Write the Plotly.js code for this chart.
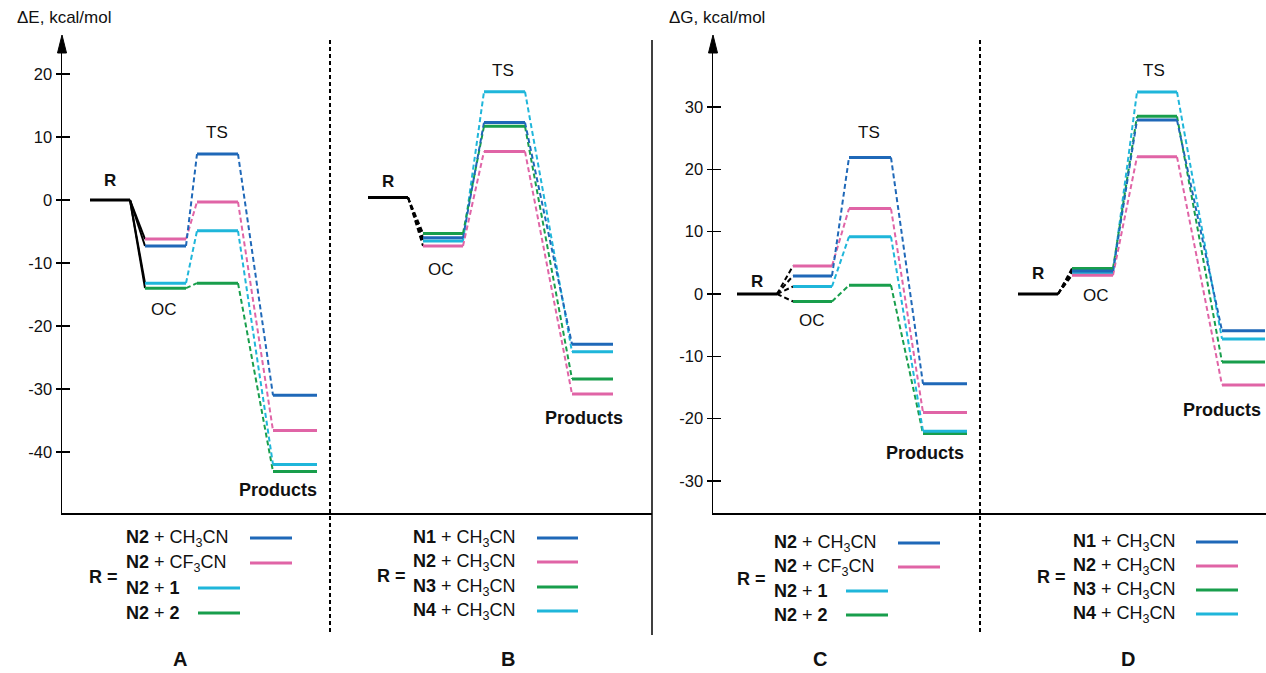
<!DOCTYPE html>
<html><head><meta charset="utf-8">
<script src="https://cdn.plot.ly/plotly-3.0.1.min.js"></script>
<style>html,body{margin:0;padding:0;background:#fff}#chart{width:1266px;height:673px}</style>
</head><body><div id="chart"></div>
<script>
// ---------------- DATA ----------------
const stages = ['R', 'OC', 'TS', 'Products'];
const legendA = ['<b>N2</b> + CH<sub>3</sub>CN', '<b>N2</b> + CF<sub>3</sub>CN', '<b>N2</b> + <b>1</b>', '<b>N2</b> + <b>2</b>'];
const legendB = ['<b>N1</b> + CH<sub>3</sub>CN', '<b>N2</b> + CH<sub>3</sub>CN', '<b>N3</b> + CH<sub>3</sub>CN', '<b>N4</b> + CH<sub>3</sub>CN'];
const panelLabels = ['A', 'B', 'C', 'D'];

// Panel A (ΔE)
const A_R = 0;
const A_OC = [-7.3, -6.2, -13.2, -14.0];
const A_TS = [7.3, -0.3, -4.9, -13.2];
const A_P = [-31.0, -36.6, -42.0, -43.1];
// Panel B (ΔE)
const B_R = 0.4;
const B_OC = [-6.0, -7.3, -5.3, -6.5];
const B_TS = [12.3, 7.7, 11.7, 17.2];
const B_P = [-22.9, -30.8, -28.4, -24.1];
// Panel C (ΔG)
const C_R = 0;
const C_OC = [2.9, 4.5, 1.2, -1.2];
const C_TS = [21.9, 13.7, 9.2, 1.4];
const C_P = [-14.4, -19.0, -22.0, -22.4];
// Panel D (ΔG)
const D_R = 0;
const D_OC = [3.7, 3.0, 4.1, 3.4];
const D_TS = [27.9, 22.0, 28.5, 32.4];
const D_P = [-5.9, -14.6, -10.9, -7.2];

const leftTickVals = [20, 10, 0, -10, -20, -30, -40];
const leftTickText = ['20', '10', '0', '-10', '-20', '-30', '-40'];
const rightTickVals = [30, 20, 10, 0, -10, -20, -30];
const rightTickText = ['30', '20', '10', '0', '-10', '-20', '-30'];

// ---------------- STYLE / LAYOUT ----------------
const BLUE = '#1f68b8', PINK = '#e064a6', CYAN = '#1fb6da', GREEN = '#189e4c';
const colorsAC = [BLUE, PINK, CYAN, GREEN];
const colorsBD = [BLUE, PINK, GREEN, CYAN];
const W = 1266, H = 673;
const fx = p => p / W, fy = p => 1 - p / H;
const FONT = 'Liberation Sans, Arial, Helvetica, sans-serif';

// stage x-extents in axis units (axis units = pixel columns)
const geomA = {R: [90, 130], OC: [145, 186], TS: [197, 238], P: [273, 317]};
const geomB = {R: [368, 408], OC: [423, 463], TS: [484, 525], P: [572, 613]};
const geomC = {R: [737, 777], OC: [793, 832], TS: [849, 891], P: [923, 967]};
const geomD = {R: [1018, 1058], OC: [1072, 1113], TS: [1137, 1177], P: [1222, 1265]};

const traces = [];
function panel(xa, ya, g, R, OC, TS, P, colors, solidROC) {
  const n = OC.length;
  const dash = '5px,3px';
  for (let i = 0; i < n; i++) {
    traces.push({x: [g.R[1], g.OC[0]], y: [R, OC[i]], xaxis: xa, yaxis: ya, mode: 'lines',
      line: {color: '#000', width: 2, dash: solidROC ? 'solid' : dash}, hoverinfo: 'skip', showlegend: false});
  }
  for (let i = n - 1; i >= 0; i--) {
    traces.push({x: [g.OC[1], g.TS[0]], y: [OC[i], TS[i]], xaxis: xa, yaxis: ya, mode: 'lines',
      line: {color: colors[i], width: 2, dash: dash}, hoverinfo: 'skip', showlegend: false});
    traces.push({x: [g.TS[1], g.P[0]], y: [TS[i], P[i]], xaxis: xa, yaxis: ya, mode: 'lines',
      line: {color: colors[i], width: 2, dash: dash}, hoverinfo: 'skip', showlegend: false});
  }
  traces.push({x: g.R, y: [R, R], xaxis: xa, yaxis: ya, mode: 'lines',
    line: {color: '#000', width: 3}, hoverinfo: 'skip', showlegend: false});
  for (let i = n - 1; i >= 0; i--) {
    [[g.OC, OC[i]], [g.TS, TS[i]], [g.P, P[i]]].forEach(([xx, v]) => {
      traces.push({x: xx, y: [v, v], xaxis: xa, yaxis: ya, mode: 'lines',
        line: {color: colors[i], width: 3}, hoverinfo: 'skip', showlegend: false});
    });
  }
}
panel('x', 'y', geomA, A_R, A_OC, A_TS, A_P, colorsAC, true);
panel('x', 'y', geomB, B_R, B_OC, B_TS, B_P, colorsBD, false);
panel('x2', 'y2', geomC, C_R, C_OC, C_TS, C_P, colorsAC, false);
panel('x2', 'y2', geomD, D_R, D_OC, D_TS, D_P, colorsBD, false);
traces.push({x: [], y: [], xaxis: 'x', yaxis: 'y3', showlegend: false});
traces.push({x: [], y: [], xaxis: 'x2', yaxis: 'y4', showlegend: false});

const leftRange = [(200 - 513) / 6.3, (200 - 40) / 6.3];
const rightRange = [(294 - 513) / 6.233, (294 - 40) / 6.233];
const yDom = [fy(513), fy(40)];

function yAxis(anchor, range, vals, text) {
  return {anchor: anchor, domain: yDom, range: range, showline: true, linecolor: '#000', linewidth: 1.5,
    ticks: 'outside', ticklen: 5, tickwidth: 1.5, tickcolor: '#000', tickvals: vals, ticktext: text,
    tickfont: {family: FONT, size: 16.5, color: '#111'}, showgrid: false, zeroline: false, fixedrange: true};
}
function tickAxis(anchor, over, range, vals) {
  return {anchor: anchor, overlaying: over, side: 'left', domain: yDom, range: range, showline: false,
    ticks: 'inside', ticklen: 8, tickwidth: 1.5, tickcolor: '#000', tickvals: vals, showticklabels: false,
    showgrid: false, zeroline: false, fixedrange: true};
}
function xAxis(anchor, dom, range) {
  return {anchor: anchor, domain: dom, range: range, showline: true, linecolor: '#000', linewidth: 2,
    ticks: '', showticklabels: false, showgrid: false, zeroline: false, fixedrange: true};
}

const shapes = [];
const annotations = [];
function ann(text, x, y, size, opts) {
  annotations.push(Object.assign({text: text, x: fx(x), y: fy(y), xref: 'paper', yref: 'paper',
    showarrow: false, xanchor: 'center', yanchor: 'middle', font: {family: FONT, size: size, color: '#111'}}, opts || {}));
}
function vline(x, y0, y1, width, dash) {
  shapes.push({type: 'line', xref: 'paper', yref: 'paper', x0: fx(x), x1: fx(x), y0: fy(y0), y1: fy(y1),
    line: {color: '#000', width: width, dash: dash || 'solid'}});
}
function arrow(x) {
  shapes.push({type: 'path', xref: 'paper', yref: 'paper',
    path: `M ${fx(x)},${fy(35)} L ${fx(x - 4.5)},${fy(53)} L ${fx(x + 4.5)},${fy(53)} Z`,
    fillcolor: '#000', line: {color: '#000', width: 1}});
}
arrow(62); arrow(713);
vline(652, 40, 635, 1.5);
vline(330, 40, 633, 2, '4px,3px');
vline(980, 40, 633, 2, '4px,3px');

ann('ΔE, kcal/mol', 64, 17, 17);
ann('ΔG, kcal/mol', 717, 17, 17);

function stageLabels(pos) {
  ann('<b>R</b>', pos.R[0], pos.R[1], 17);
  ann('OC', pos.OC[0], pos.OC[1], 17);
  ann('TS', pos.TS[0], pos.TS[1], 17);
  ann('<b>Products</b>', pos.P[0], pos.P[1], 18);
}
stageLabels({R: [110, 181], OC: [164, 310], TS: [217, 133], P: [278, 490]});
stageLabels({R: [388, 182], OC: [441, 269], TS: [503, 71], P: [584, 418]});
stageLabels({R: [757, 281], OC: [812, 320], TS: [869, 133], P: [925, 453]});
stageLabels({R: [1038, 273], OC: [1096, 295], TS: [1154, 71], P: [1222, 410]});

function legendBlock(labels, colors, textX, rowsY, lineXs, rEq) {
  labels.forEach((t, i) => {
    ann(t, textX, rowsY[i], 18, {xanchor: 'left'});
    shapes.push({type: 'line', xref: 'paper', yref: 'paper', x0: fx(lineXs[i][0]), x1: fx(lineXs[i][1]),
      y0: fy(rowsY[i]), y1: fy(rowsY[i]), line: {color: colors[i], width: 3}});
  });
  ann('<b>R =</b>', rEq[0], rEq[1], 18);
}
legendBlock(legendA, colorsAC, 124, [538, 563, 588, 613], [[250, 292], [250, 292], [198, 240], [198, 240]], [103, 577]);
legendBlock(legendB, colorsBD, 411, [538, 562, 587, 611], [[537, 578], [537, 578], [537, 578], [537, 578]], [391, 576]);
legendBlock(legendA, colorsAC, 772, [543, 567, 591, 615], [[898, 940], [898, 940], [846, 888], [846, 888]], [751, 579]);
legendBlock(legendB, colorsBD, 1071, [542, 566, 590, 614], [[1196, 1238], [1196, 1238], [1196, 1238], [1196, 1238]], [1051, 577]);

[[180, 659], [508, 659], [820, 659], [1128, 659]].forEach((p, i) => ann('<b>' + panelLabels[i] + '</b>', p[0], p[1], 20, {borderpad: 0}));

const layout = {
  width: W, height: H, margin: {l: 0, r: 0, t: 0, b: 0}, paper_bgcolor: '#fff', plot_bgcolor: 'rgba(0,0,0,0)',
  showlegend: false,
  xaxis: xAxis('y', [fx(62), fx(652)], [62, 652]),
  yaxis: yAxis('x', leftRange, leftTickVals, leftTickText),
  xaxis2: xAxis('y2', [fx(713), 1], [713, 1266]),
  yaxis2: yAxis('x2', rightRange, rightTickVals, rightTickText),
  yaxis3: tickAxis('x', 'y', leftRange, leftTickVals),
  yaxis4: tickAxis('x2', 'y2', rightRange, rightTickVals),
  shapes: shapes, annotations: annotations
};
Plotly.newPlot('chart', traces, layout, {staticPlot: true, displayModeBar: false});
</script></body></html>
